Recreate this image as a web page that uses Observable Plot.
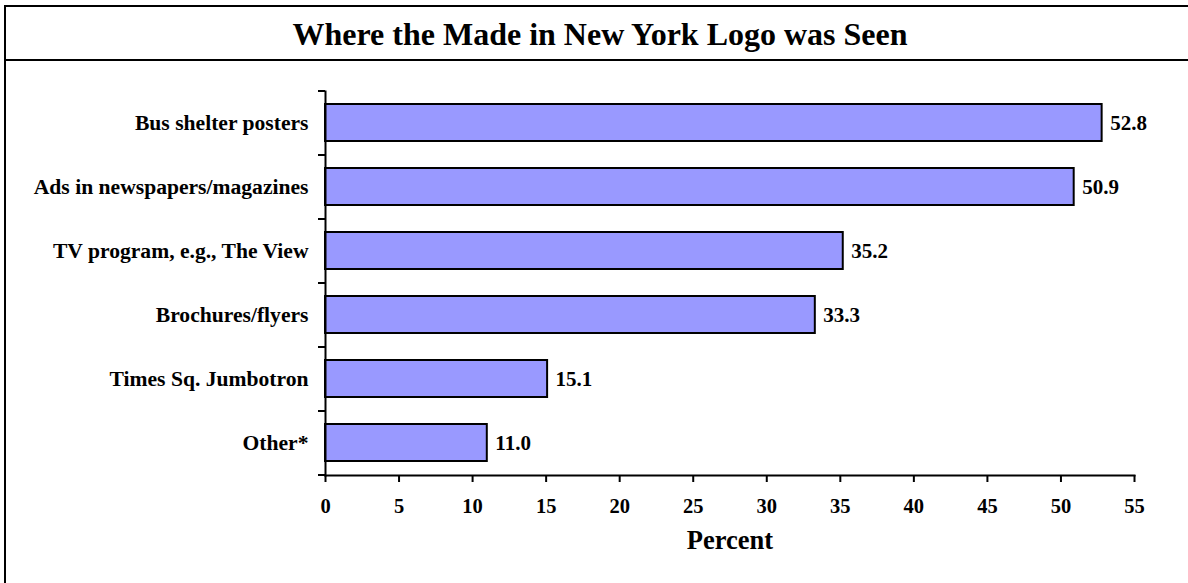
<!DOCTYPE html>
<html>
<head>
<meta charset="utf-8">
<script src="https://cdn.jsdelivr.net/npm/d3@7"></script>
<script src="https://cdn.jsdelivr.net/npm/@observablehq/plot@0.6"></script>
<style>
html, body { margin: 0; padding: 0; background: #fff; overflow: hidden; width: 1188px; height: 583px; }
#box { position: absolute; left: 4px; top: 5px; width: 1200px; height: 620px;
  border-left: 2px solid #000; border-top: 2px solid #000;
  font-family: "Liberation Serif", "Times New Roman", serif; }
#title { width: 1188px; height: 52px; line-height: 54px; border-bottom: 2px solid #000;
  text-align: center; font-weight: bold; font-size: 32px; color: #000; }
#chart svg { display: block; }
</style>
</head>
<body>
<div id="box">
  <div id="title">Where the Made in New York Logo was Seen</div>
  <div id="chart"></div>
</div>
<script>
const categories = [
  "Bus shelter posters",
  "Ads in newspapers/magazines",
  "TV program, e.g., The View",
  "Brochures/flyers",
  "Times Sq. Jumbotron",
  "Other*"
];
const values = [52.8, 50.9, 35.2, 33.3, 15.1, 11.0];
const xTicks = [0, 5, 10, 15, 20, 25, 30, 35, 40, 45, 50, 55];
const xLabel = "Percent";

const data = categories.map((c, i) => ({category: c, value: values[i]}));

const W = 1182, H = 522, mL = 319, mR = 54, mT = 30, mB = 108;
const step = (H - mT - mB) / categories.length;
const font = '"Liberation Serif", "Times New Roman", serif';

const chart = Plot.plot({
  width: W,
  height: H,
  marginLeft: mL,
  marginRight: mR,
  marginTop: mT,
  marginBottom: mB,
  style: {fontFamily: font, fontWeight: "bold", fontSize: "21px", color: "#000", background: "transparent"},
  x: {domain: [0, 55]},
  y: {domain: categories, paddingInner: 0.42, paddingOuter: 0.21},
  marks: [
    Plot.barX(data, {x: "value", y: "category", fill: "#9999ff", stroke: "#000", strokeWidth: 2}),
    Plot.text(data, {x: "value", y: "category", text: d => d.value.toFixed(1), textAnchor: "start", dx: 8, fontSize: 21, fontWeight: "bold", fill: "#000"}),
    Plot.axisY({tickSize: 0, tickPadding: 17, fontSize: 21.6, label: null}),
    Plot.axisY({fill: "none", tickSize: 7, strokeWidth: 2, dy: -step / 2, label: null}),
    Plot.axisY({ticks: [categories[categories.length - 1]], fill: "none", tickSize: 7, strokeWidth: 2, dy: step / 2, label: null}),
    Plot.axisX({ticks: xTicks, tickSize: 7, strokeWidth: 2, tickPadding: 16, fontSize: 20.5,
      label: xLabel, labelAnchor: "center", labelArrow: false, labelOffset: 73}),
    Plot.frame({anchor: "left", strokeWidth: 2, stroke: "#000"}),
    Plot.frame({anchor: "bottom", strokeWidth: 2, stroke: "#000"})
  ]
});
document.getElementById("chart").appendChild(chart);
// larger axis title, as in the reference
d3.select(chart).selectAll('g[aria-label="x-axis label"] text').style("font-size", "26.5px");
</script>
</body>
</html>
